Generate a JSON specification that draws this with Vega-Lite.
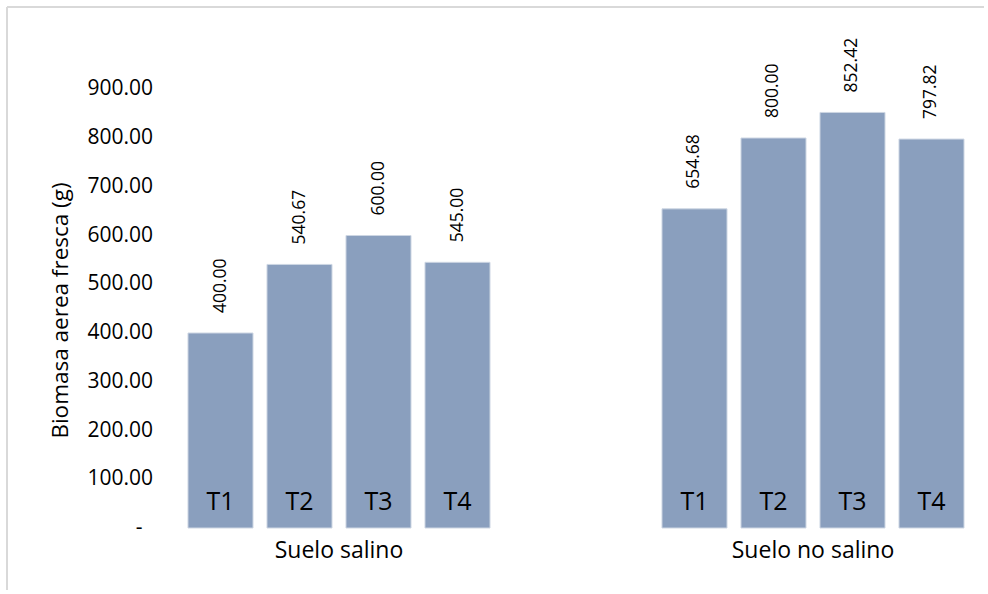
{
  "$schema": "https://vega.github.io/schema/vega-lite/v6.json",
  "width": 977,
  "height": 583,
  "autosize": {"type": "none"},
  "padding": {"left": 7, "top": 7, "right": 4, "bottom": 4},
  "background": "white",
  "config": {
    "view": {"stroke": null},
    "font": "Open Sans",
    "text": {"font": "Open Sans", "color": "#000000"}
  },
  "data": {
    "values": [
      {"group": "Suelo salino", "trat": "T1", "key": "S-T1", "value": 400.00},
      {"group": "Suelo salino", "trat": "T2", "key": "S-T2", "value": 540.67},
      {"group": "Suelo salino", "trat": "T3", "key": "S-T3", "value": 600.00},
      {"group": "Suelo salino", "trat": "T4", "key": "S-T4", "value": 545.00},
      {"group": "Suelo no salino", "trat": "T1", "key": "N-T1", "value": 654.68},
      {"group": "Suelo no salino", "trat": "T2", "key": "N-T2", "value": 800.00},
      {"group": "Suelo no salino", "trat": "T3", "key": "N-T3", "value": 852.42},
      {"group": "Suelo no salino", "trat": "T4", "key": "N-T4", "value": 797.82}
    ]
  },
  "layer": [
    {
      "mark": {"type": "bar", "color": "#8A9FBE", "stroke": "#cdd6e3", "strokeWidth": 1},
      "encoding": {
        "x": {
          "field": "key",
          "type": "nominal",
          "sort": null,
          "scale": {
            "domain": ["S-T1", "S-T2", "S-T3", "S-T4", "gap1", "gap2", "N-T1", "N-T2", "N-T3", "N-T4"],
            "range": [174, 964],
            "paddingInner": 0.177,
            "paddingOuter": 0.0886
          },
          "axis": {
            "title": null,
            "offset": -62,
            "values": ["S-T2", "N-T2"],
            "labelExpr": "datum.value == 'S-T2' ? 'Suelo salino' : 'Suelo no salino'",
            "labelOffset": 39.5,
            "labelAngle": 0,
            "labelAlign": "center",
            "labelBaseline": "top",
            "labelPadding": 11,
            "labelFontSize": 23,
            "labelFont": "Open Sans",
            "labelColor": "#000000",
            "ticks": false,
            "tickSize": 0,
            "domain": false,
            "grid": false
          }
        },
        "y": {
          "field": "value",
          "type": "quantitative",
          "scale": {"domain": [-127.18, 1068.72], "nice": false, "zero": false},
          "axis": {
            "title": "Biomasa aerea fresca (g)",
            "offset": 0,
            "translate": 0,
            "titleFont": "Open Sans",
            "titleFontSize": 22.5,
            "titleFontWeight": "normal",
            "titleColor": "#000000",
            "titleAngle": 270,
            "titleAlign": "center",
            "titleBaseline": "alphabetic",
            "titleX": 61,
            "titleY": 303.5,
            "values": [0, 100, 200, 300, 400, 500, 600, 700, 800, 900],
            "labelExpr": "datum.value == 0 ? '-\u2002\u2060' : format(datum.value, '.2f')",
            "labelFont": "Open Sans",
            "labelFontSize": 21,
            "labelColor": "#000000",
            "labelAlign": "right",
            "labelPadding": -146,
            "ticks": false,
            "tickSize": 0,
            "domain": true,
            "domainColor": "#d9d9d9",
            "domainWidth": 2,
            "domainCap": "butt",
            "grid": false
          }
        }
      }
    },
    {
      "mark": {"type": "text", "angle": 270, "align": "left", "baseline": "middle", "dx": 20, "fontSize": 17.5},
      "encoding": {
        "x": {"field": "key", "type": "nominal", "sort": null},
        "y": {"field": "value", "type": "quantitative"},
        "text": {"field": "value", "type": "quantitative", "format": ".2f"}
      }
    },
    {
      "mark": {"type": "text", "align": "center", "baseline": "alphabetic", "dy": -18, "fontSize": 25},
      "encoding": {
        "x": {"field": "key", "type": "nominal", "sort": null},
        "y": {"datum": 0},
        "text": {"field": "trat", "type": "nominal"}
      }
    },
    {
      "data": {"values": [{"edge": "top"}]},
      "mark": {"type": "rule", "color": "#d9d9d9", "strokeWidth": 2},
      "encoding": {
        "y": {"datum": 1068.72}
      }
    }
  ]
}
